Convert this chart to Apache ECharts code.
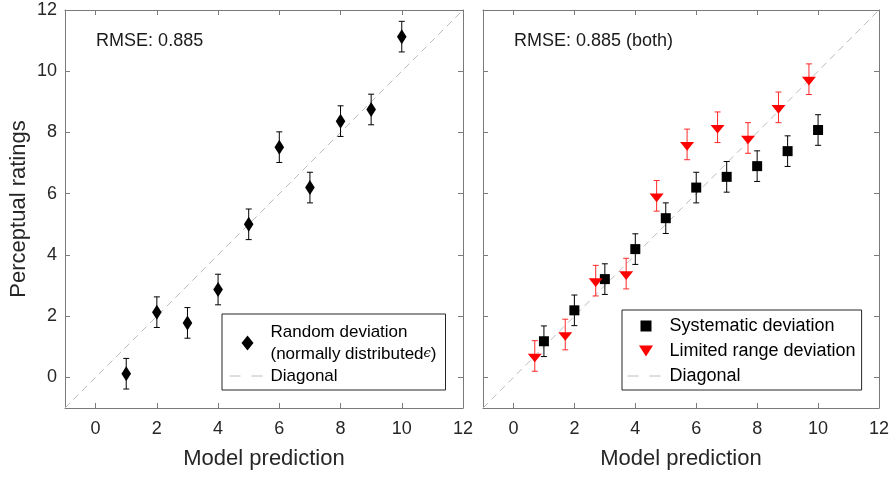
<!DOCTYPE html>
<html><head><meta charset="utf-8">
<script src="https://cdn.jsdelivr.net/npm/echarts@6/dist/echarts.min.js"></script>
<style>html,body{margin:0;padding:0;background:#fff}#c{width:894px;height:477px}</style>
</head><body><div id="c"></div>
<script>
// ---------- data ----------
const xTicks = [0, 2, 4, 6, 8, 10, 12];
const yTicks = [0, 2, 4, 6, 8, 10, 12];
const axisMin = -1, axisMax = 12;

const randomX   = [1, 2, 3, 4, 5, 6, 7, 8, 9, 10];
const randomY   = [0.12, 2.13, 1.78, 2.87, 5.0, 7.52, 6.2, 8.37, 8.75, 11.13];
const randomErr = [0.5, 0.5, 0.5, 0.5, 0.5, 0.5, 0.5, 0.5, 0.5, 0.5];

const systematicX   = [1, 2, 3, 4, 5, 6, 7, 8, 9, 10];
const systematicY   = [1.18, 2.19, 3.21, 4.19, 5.2, 6.2, 6.55, 6.9, 7.39, 8.08];
const systematicErr = [0.5, 0.5, 0.5, 0.5, 0.5, 0.5, 0.5, 0.5, 0.5, 0.5];

const limitedX   = [0.7, 1.7, 2.7, 3.7, 4.7, 5.7, 6.7, 7.7, 8.7, 9.7];
const limitedY   = [0.70, 1.40, 3.16, 3.39, 5.93, 7.61, 8.17, 7.82, 8.82, 9.74];
const limitedErr = [0.5, 0.5, 0.5, 0.5, 0.5, 0.5, 0.5, 0.5, 0.5, 0.5];

const diagonalX = [-1, 12];
const diagonalY = [-1, 12];

const rmseLeftText = 'RMSE: 0.885';
const rmseRightText = 'RMSE: 0.885 (both)';
const rmsePos = [0, 11];

const xTitle = 'Model prediction';
const yTitle = 'Perceptual ratings';
const nameRandom = 'Random deviation (normally distributed ϵ)';
const nameSystematic = 'Systematic deviation';
const nameLimited = 'Limited range deviation';
const nameDiagonal = 'Diagonal';

// ---------- helpers ----------
const FONT = "'Liberation Sans', Arial, Helvetica, sans-serif";
const AXIS_COLOR = '#7a7a7a';
const TEXT_COLOR = '#262626';
const DIAG_COLOR = '#bcbcbc';
const SYM_DIAMOND = 'path://M6,0L12,7.5L6,15L0,7.5Z';
const SYM_SQUARE = 'path://M0,0L10,0L10,10L0,10Z';
const SYM_TRI_DOWN = 'path://M0,0L14,0L7,11Z';
const zip = (xs, ys, es) => xs.map((x, i) => es ? [x, ys[i], es[i]] : [x, ys[i]]);

function xAxis(grid, position, labels, name) {
  return {
    type: 'value', gridIndex: grid, position: position, min: axisMin, max: axisMax,
    name: name || '', nameLocation: 'middle', nameGap: 40,
    nameTextStyle: { fontSize: 22, color: TEXT_COLOR, fontFamily: FONT },
    axisLine: { show: true, onZero: false, lineStyle: { color: AXIS_COLOR, width: 1 } },
    axisTick: { show: true, inside: true, length: 5, customValues: xTicks, lineStyle: { color: AXIS_COLOR } },
    axisLabel: { show: labels, customValues: xTicks, margin: 12, fontSize: 18, color: TEXT_COLOR, fontFamily: FONT },
    splitLine: { show: false }
  };
}
function yAxis(grid, position, labels, name) {
  return {
    type: 'value', gridIndex: grid, position: position, min: axisMin, max: axisMax,
    name: name || '', nameLocation: 'middle', nameGap: 35,
    nameTextStyle: { fontSize: 22, color: TEXT_COLOR, fontFamily: FONT },
    axisLine: { show: true, onZero: false, lineStyle: { color: AXIS_COLOR, width: 1 } },
    axisTick: { show: true, inside: true, length: 5, customValues: yTicks, lineStyle: { color: AXIS_COLOR } },
    axisLabel: { show: labels, customValues: yTicks, margin: 8, fontSize: 18, color: TEXT_COLOR, fontFamily: FONT },
    splitLine: { show: false }
  };
}
function errorBar(color) {
  return function (params, api) {
    const x = api.value(0), y = api.value(1), e = api.value(2);
    const top = api.coord([x, y + e]), bot = api.coord([x, y - e]);
    const hw = 3;
    const style = { stroke: color, lineWidth: 1 };
    return { type: 'group', children: [
      { type: 'line', shape: { x1: top[0], y1: top[1], x2: bot[0], y2: bot[1] }, style: style },
      { type: 'line', shape: { x1: top[0] - hw, y1: top[1], x2: top[0] + hw, y2: top[1] }, style: style },
      { type: 'line', shape: { x1: bot[0] - hw, y1: bot[1], x2: bot[0] + hw, y2: bot[1] }, style: style }
    ]};
  };
}
function diagSeries(idx) {
  return {
    name: nameDiagonal, type: 'line', xAxisIndex: idx, yAxisIndex: idx,
    data: zip(diagonalX, diagonalY), symbol: 'none', silent: true, z: 1,
    itemStyle: { color: DIAG_COLOR },
    lineStyle: { color: DIAG_COLOR, width: 1, type: [7, 5] }
  };
}
function rmseSeries(idx, text) {
  return {
    name: 'rmse' + idx, type: 'scatter', xAxisIndex: idx, yAxisIndex: idx,
    data: [rmsePos], symbolSize: 1, itemStyle: { color: 'rgba(0,0,0,0)', opacity: 1 }, silent: true,
    label: { show: true, position: 'right', distance: 0, formatter: text,
             fontSize: 18, color: '#1a1a1a', fontFamily: FONT }
  };
}
const diagLegendItem = { name: nameDiagonal, itemStyle: { opacity: 0 },
  lineStyle: { color: DIAG_COLOR, width: 1, type: [11, 11] } };

const chart = echarts.init(document.getElementById('c'), null, { renderer: 'canvas' });
chart.setOption({
  backgroundColor: '#ffffff',
  animation: false,
  textStyle: { fontFamily: FONT },
  grid: [
    { left: 65, top: 10, width: 398, height: 398 },
    { left: 483, top: 10, width: 396, height: 398 }
  ],
  xAxis: [
    xAxis(0, 'bottom', true, xTitle), xAxis(0, 'top', false),
    xAxis(1, 'bottom', true, xTitle), xAxis(1, 'top', false)
  ],
  yAxis: [
    yAxis(0, 'left', true, yTitle), yAxis(0, 'right', false),
    yAxis(1, 'left', false), yAxis(1, 'right', false)
  ],
  legend: [
    {
      data: [nameRandom, diagLegendItem], orient: 'vertical', left: 222, top: 314,
      selectedMode: false, itemWidth: 36, itemHeight: 15, itemGap: 0,
      padding: [7, 9, 3, 7], borderColor: '#262626', borderWidth: 1, backgroundColor: '#fff',
      formatter: function (n) { return n === nameRandom ? 'Random deviation\n(normally distributed{e|ϵ})' : n; },
      textStyle: { fontSize: 17, lineHeight: 22, color: '#000', fontFamily: FONT,
        rich: { e: { fontSize: 13, fontStyle: 'italic', fontFamily: "'DejaVu Serif', serif", color: '#000' } } }
    },
    {
      data: [nameSystematic, nameLimited, diagLegendItem], orient: 'vertical', left: 622, top: 310,
      selectedMode: false, itemWidth: 37, itemHeight: 11, itemGap: 5,
      padding: [6, 6, 4, 5], borderColor: '#262626', borderWidth: 1, backgroundColor: '#fff',
      textStyle: { fontSize: 18, lineHeight: 20, color: '#000', fontFamily: FONT }
    }
  ],
  series: [
    diagSeries(0), diagSeries(2),
    { name: 'errRandom', type: 'custom', xAxisIndex: 0, yAxisIndex: 0, encode: { x: 0, y: 1 },
      data: zip(randomX, randomY, randomErr), renderItem: errorBar('#000'), silent: true, z: 2 },
    { name: nameRandom, type: 'scatter', xAxisIndex: 0, yAxisIndex: 0, data: zip(randomX, randomY),
      symbol: SYM_DIAMOND, symbolKeepAspect: true, symbolSize: [12, 15],
      itemStyle: { color: '#000', opacity: 1 }, z: 3 },
    { name: 'errSystematic', type: 'custom', xAxisIndex: 2, yAxisIndex: 2, encode: { x: 0, y: 1 },
      data: zip(systematicX, systematicY, systematicErr), renderItem: errorBar('#000'), silent: true, z: 2 },
    { name: nameSystematic, type: 'scatter', xAxisIndex: 2, yAxisIndex: 2, data: zip(systematicX, systematicY),
      symbol: SYM_SQUARE, symbolKeepAspect: true, symbolSize: 10,
      itemStyle: { color: '#000', opacity: 1 }, z: 3 },
    { name: 'errLimited', type: 'custom', xAxisIndex: 2, yAxisIndex: 2, encode: { x: 0, y: 1 },
      data: zip(limitedX, limitedY, limitedErr), renderItem: errorBar('#ff2a2a'), silent: true, z: 2 },
    { name: nameLimited, type: 'scatter', xAxisIndex: 2, yAxisIndex: 2, data: zip(limitedX, limitedY),
      symbol: SYM_TRI_DOWN, symbolKeepAspect: true, symbolSize: [14, 11], symbolOffset: [0, 2],
      itemStyle: { color: '#ff0000', opacity: 1 }, z: 3 },
    rmseSeries(0, rmseLeftText), rmseSeries(2, rmseRightText)
  ]
});
</script></body></html>
